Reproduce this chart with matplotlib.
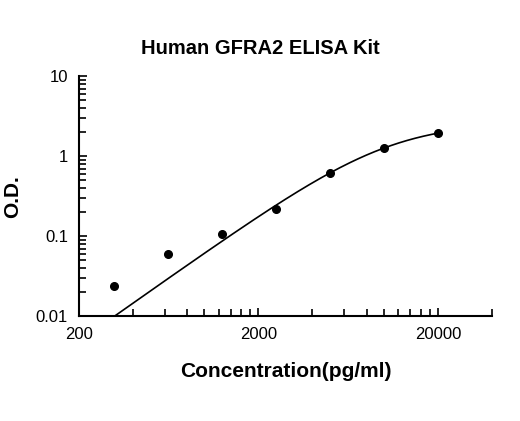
import numpy as np
import matplotlib
matplotlib.use("Agg")
import matplotlib.pyplot as plt
from matplotlib.ticker import FixedLocator, NullFormatter, LogLocator

conc = [312.5, 625, 1250, 2500, 5000, 10000, 20000]
od = [0.024, 0.060, 0.107, 0.22, 0.61, 1.27, 1.94]
xticks = [200, 2000, 20000]
yticks = [0.01, 0.1, 1, 10]

plt.rcParams['font.family'] = ['Liberation Sans', 'DejaVu Sans']
fig = plt.figure(figsize=(5.2, 4.21), dpi=100)
ax = fig.add_axes([0.152, 0.249, 0.794, 0.570])
ax.set_xscale('log'); ax.set_yscale('log')
ax.set_xlim(200, 40000); ax.set_ylim(0.01, 10)

# 4PL-type fit (a=0) by least squares on linear scale
x = np.array(conc); y = np.array(od)
best = None
for c in np.logspace(3.3, 5, 200):
    for b in np.linspace(0.8, 2.5, 120):
        g = 1 / (1 + (c / x) ** b)
        d = (g @ y) / (g @ g)
        err = np.sum((d * g - y) ** 2)
        if best is None or err < best[0]:
            best = (err, c, b, d)
_, c, b, d = best
xs = np.logspace(np.log10(conc[0]), np.log10(conc[-1]), 200)
ax.plot(xs, d / (1 + (c / xs) ** b), color='black', lw=1.2)
ax.plot(conc, od, 'o', color='black', ms=5.5)

ax.set_xticks(xticks); ax.set_xticklabels([str(t) for t in xticks])
minors = list(range(400, 2000, 200)) + list(range(4000, 20000, 2000)) + [40000]
ax.xaxis.set_minor_locator(FixedLocator(minors))
ax.xaxis.set_minor_formatter(NullFormatter())
ax.set_yticks(yticks); ax.set_yticklabels(['0.01', '0.1', '1', '10'])
ax.yaxis.set_minor_locator(LogLocator(subs=np.arange(2, 10)))
ax.yaxis.set_minor_formatter(NullFormatter())
ax.tick_params(which='both', direction='in', width=1.2, labelsize=12, pad=8)
ax.tick_params(which='major', length=6)
ax.tick_params(which='minor', length=5)
for s in ['top', 'right']:
    ax.spines[s].set_visible(False)
for s in ['left', 'bottom']:
    ax.spines[s].set_linewidth(1.5)
ax.set_xlabel('Concentration(pg/ml)', fontsize=15, fontweight='bold', labelpad=14)
ax.set_ylabel('O.D.', fontsize=15, fontweight='bold', labelpad=10)
fig.text(0.5, 0.872, 'Human GFRA2 ELISA Kit', ha='center', fontsize=14.5, fontweight='bold')
fig.savefig('out.png', dpi=100)
